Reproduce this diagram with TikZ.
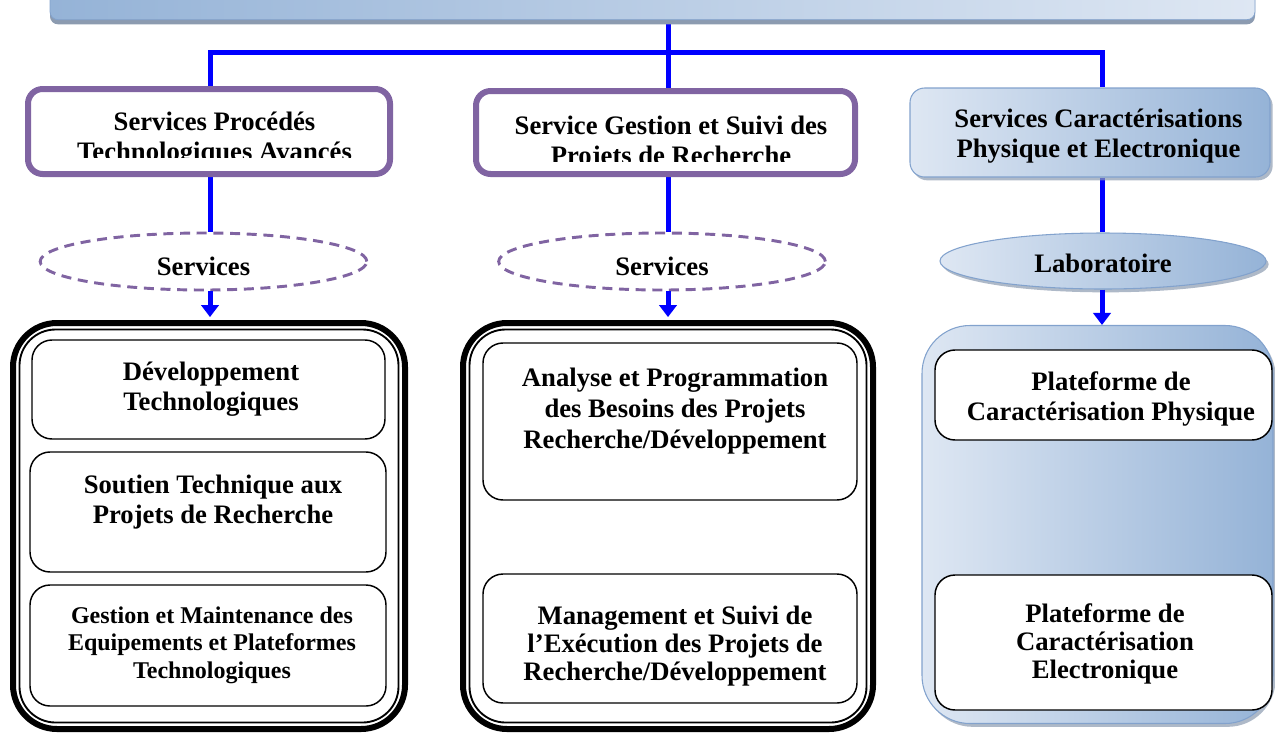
\documentclass[tikz,border=0pt]{standalone}
\usepackage{fontspec}
\setmainfont{Liberation Serif}
\usetikzlibrary{shapes.geometric,arrows.meta,shadows}
\definecolor{linkblue}{RGB}{0,0,255}
\definecolor{ofpurple}{RGB}{128,100,162}
\definecolor{lightblue}{RGB}{222,231,243}
\definecolor{midblue}{RGB}{149,179,215}
\definecolor{edgeblue}{RGB}{130,162,205}
\definecolor{shadowgray}{RGB}{140,155,176}
\pgfdeclarelayer{bg}
\pgfsetlayers{bg,main}
\begin{document}
\begin{tikzpicture}[x=0.75pt,y=-0.75pt,
  link/.style={linkblue, line width=3.75pt},
  arr/.style={link, -{Triangle[width=13pt,length=9pt]}},
  hdrbox/.style={draw=ofpurple, line width=4.5pt, rounded corners=11pt, fill=white, inner sep=0pt},
  bluebox/.style={draw=edgeblue, line width=0.8pt, left color=lightblue, right color=midblue,
     drop shadow={shadow xshift=2pt, shadow yshift=-2.5pt, fill=shadowgray, opacity=0.7}, inner sep=0pt},
  svcell/.style={ellipse, draw=ofpurple, line width=2.2pt, dash pattern=on 7.5pt off 5pt, inner sep=0pt,
     minimum width=245pt, minimum height=42.75pt, text height=21pt, text depth=0pt},
  labell/.style={ellipse, bluebox, minimum width=244.5pt, minimum height=42pt, text height=16.5pt, text depth=0pt},
  frameouter/.style={draw=black, line width=4.5pt, rounded corners=33pt, fill=white, inner sep=0pt},
  frameinner/.style={draw=black, line width=1.4pt, rounded corners=27pt, inner sep=0pt},
  itembox/.style={draw=black, line width=1.1pt, rounded corners=15pt, fill=white, inner sep=0pt},
  txt/.style={font=\fontsize{20}{22.5}\selectfont\bfseries, align=center, inner sep=0pt},
  txtd/.style={font=\fontsize{20}{23}\selectfont\bfseries, align=center, inner sep=0pt},
  txtt/.style={font=\fontsize{20}{20.8}\selectfont\bfseries, align=center, inner sep=0pt},
  txtsm/.style={font=\fontsize{18}{20.6}\selectfont\bfseries, align=center, inner sep=0pt}
]
\useasboundingbox (0,0) rectangle (1275,733);

% top banner
\node[draw=edgeblue, line width=0.6pt, left color=midblue, right color=lightblue, rounded corners=6pt,
  drop shadow={shadow xshift=0pt, shadow yshift=-3.5pt, fill=shadowgray, opacity=1},
  minimum width=903.75pt, minimum height=37pt, inner sep=0pt] (banner) at (652.5,-5) {};

% headers
\node[hdrbox, minimum width=271.5pt, minimum height=63.75pt] (box1) at (209,131.5) {};
\node[hdrbox, minimum width=284.25pt, minimum height=62.25pt] (box2) at (665.5,132.5) {};
\node[bluebox, rounded corners=11pt, minimum width=270pt, minimum height=66.75pt] (box3) at (1090,132.5)
  {};
\begin{scope}
  \clip (28,92) rectangle (390,157.5);
  \node[txt] (t1) at (214.5,139) {Services Procédés\\Technologiques Avancés};
\end{scope}
\begin{scope}
  \clip (476,94) rectangle (855,161);
  \node[txt] (t2) at (671,143) {Service Gestion et Suivi des\\Projets de Recherche};
\end{scope}
\node[txt] (t3) at (1098.5,136) {Services Caractérisations\\Physique et Electronique};

% ellipses
\node[svcell] (e1) at (203.5,261.5) {\fontsize{20}{22.5}\selectfont\bfseries Services};
\node[svcell] (e2) at (662,261.5) {\fontsize{20}{22.5}\selectfont\bfseries Services};
\node[labell] (e3) at (1103,261) {\fontsize{20}{22.5}\selectfont\bfseries Laboratoire};

% frames
\node[frameouter, minimum width=294pt, minimum height=304.5pt] (f1) at (209,526) {};
\node[frameinner, minimum width=284.25pt, minimum height=294.75pt] (f1in) at (209,526) {};
\node[frameouter, minimum width=307.5pt, minimum height=304.5pt] (f2) at (668,526) {};
\node[frameinner, minimum width=297.75pt, minimum height=294.75pt] (f2in) at (668,526) {};
\node[bluebox, rounded corners=36pt, minimum width=263.25pt, minimum height=298.5pt] (f3) at (1097.5,524.5) {};

% item boxes
\node[itembox, minimum width=264.75pt, minimum height=74.25pt] (bA) at (208.5,389.5) {};
\node[itembox, minimum width=267pt, minimum height=90pt] (bB) at (208,512) {};
\node[itembox, minimum width=267pt, minimum height=90.75pt] (bC) at (208,645.5) {};
\node[itembox, minimum width=280.5pt, minimum height=117.75pt] (bD) at (670,421.5) {};
\node[itembox, minimum width=280.5pt, minimum height=96.75pt] (bE) at (670,638.5) {};
\node[itembox, minimum width=252.75pt, minimum height=67.5pt] (bF) at (1103.5,395) {};
\node[itembox, minimum width=252.75pt, minimum height=101.25pt] (bG) at (1103.5,642.5) {};

\node[txt] (tA) at (211,389) {Développement\\Technologiques};
\node[txt] (tB) at (213,502) {Soutien Technique aux\\Projets de Recherche};
\node[txtsm] (tC) at (212,645) {Gestion et Maintenance des\\Equipements et Plateformes\\Technologiques};
\node[txtd] (tD) at (675,411) {Analyse et Programmation\\des Besoins des Projets\\Recherche/Développement};
\node[txtt] (tE) at (675,646) {Management et Suivi de\\l’Exécution des Projets de\\Recherche/Développement};
\node[txt] (tF) at (1111,399) {Plateforme de\\Caractérisation Physique};
\node[txtt] (tG) at (1105,644) {Plateforme de\\Caractérisation\\Electronique};

% connectors
\coordinate (j) at (668,52);
\coordinate (c1) at (210,52);
\coordinate (c3) at (1102,52);
\begin{pgfonlayer}{bg}
  \draw[link] (banner.south -| j) -- (j);
  \draw[link] (box1.north -| c1) -- (c1) -- (c3) -- (box3.north -| c3);
  \draw[link] (j) -- (box2.north -| j);
  \draw[link] (box1.south -| c1) -- (e1.north -| c1);
  \draw[link] (box2.south -| j) -- (e2.north -| j);
  \draw[link] (box3.south -| c3) -- (e3.north -| c3);
\end{pgfonlayer}
\draw[arr, shorten >=2.2pt] (e1.south -| c1) -- (f1.north -| c1);
\draw[arr, shorten >=2.2pt] (e2.south -| j) -- (f2.north -| j);
\draw[arr] (e3.south -| c3) -- (f3.north -| c3);
\end{tikzpicture}
\end{document}
